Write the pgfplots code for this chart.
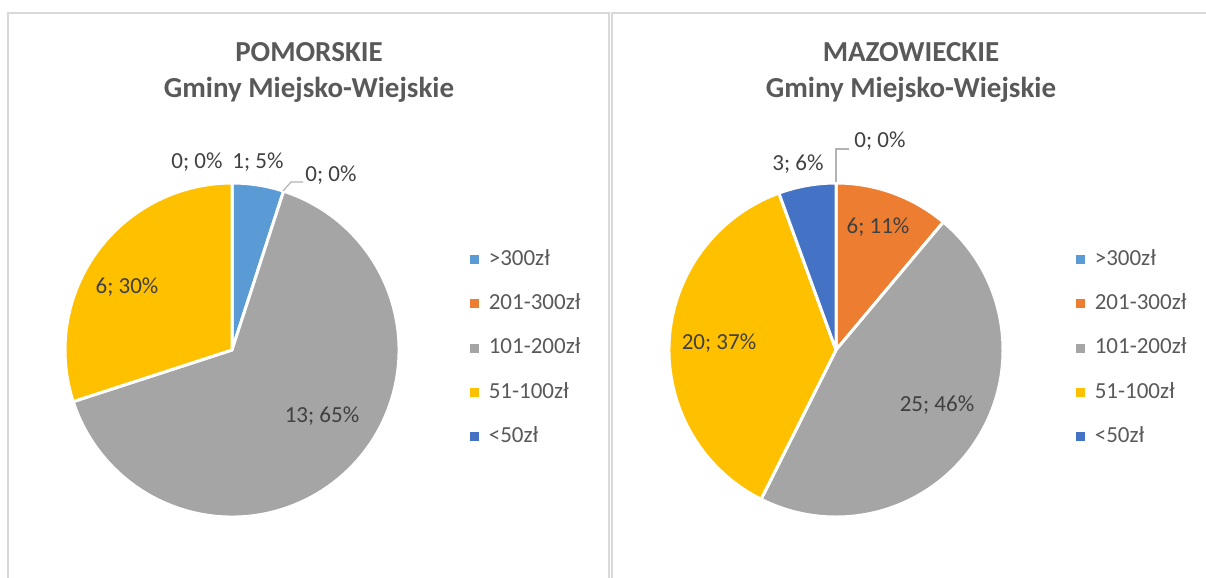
\documentclass[border=0pt]{standalone}
\usepackage{fontspec}
\setmainfont{Carlito}
\usepackage{pgfplots}
\usepackage{pgfplotstable}
\pgfplotsset{compat=1.18}

\definecolor{c0}{HTML}{5B9BD5}
\definecolor{c1}{HTML}{ED7D31}
\definecolor{c2}{HTML}{A5A5A5}
\definecolor{c3}{HTML}{FFC000}
\definecolor{c4}{HTML}{4472C4}
\definecolor{titlegray}{HTML}{595959}
\definecolor{labelgray}{HTML}{404040}
\definecolor{framegray}{HTML}{D9D9D9}

% counts per price band, same order as the legend
\pgfplotstableread{
kat val
>300zł 1
201-300zł 0
101-200zł 13
51-100zł 6
<50zł 0
}\pomorskie
\pgfplotstableread{
kat val
>300zł 0
201-300zł 6
101-200zł 25
51-100zł 20
<50zł 3
}\mazowieckie

% builds the wedge commands of one pie into #2
% #1 table, #3/#4 centre (px), #5 radius
\newcommand\makepie[5]{%
  \pgfplotstablegetrowsof{#1}%
  \pgfmathtruncatemacro\pienrows{\pgfplotsretval-1}%
  \gdef\pietot{0}%
  \foreach \i in {0,...,\pienrows}{%
    \pgfplotstablegetelem{\i}{val}\of#1%
    \pgfmathsetmacro\t{\pietot+\pgfplotsretval}%
    \xdef\pietot{\t}}%
  \gdef\piecum{0}%
  \gdef#2{}%
  \foreach \i in {0,...,\pienrows}{%
    \pgfplotstablegetelem{\i}{val}\of#1%
    \let\v\pgfplotsretval
    \pgfmathsetmacro\a{90-(\piecum/\pietot)*360}%
    \pgfmathsetmacro\b{90-((\piecum+\v)/\pietot)*360}%
    \pgfmathsetmacro\c{\piecum+\v}%
    \xdef\piecum{\c}%
    \ifdim\v pt>0pt
      \xdef#2{\expandafter\unexpanded\expandafter{#2}%
        \noexpand\filldraw[fill=c\i, draw=white, line width=1.5pt, line join=round]
          (axis cs:#3,#4) -- ++(\a:#5) arc[start angle=\a, end angle=\b, radius=#5] -- cycle;}%
    \fi}%
}
\makepie{\pomorskie}{\pieL}{232}{350}{83.5pt}
\makepie{\mazowieckie}{\pieR}{836}{350}{83.5pt}

\pgfplotsset{
  piepanel/.style={
    anchor=south west,
    x=0.5pt, y=0.5pt, y dir=reverse,
    ymin=0, ymax=578,
    hide axis, clip=false,
    legend image code/.code={\fill[##1] (0pt,-2pt) rectangle (4pt,2pt);},
    legend cell align=left,
    legend style={draw=none, fill=none, anchor=west, inner sep=0pt, outer sep=0pt,
      font=\fontsize{11.5}{13}\selectfont,
      nodes={inner sep=0pt, text height=7.8pt, text depth=2pt, text=titlegray},
      row sep=12.3pt,
      /tikz/every odd column/.append style={column sep=5pt}},
  },
}
\tikzset{
  lab/.style={font=\fontsize{11.5}{13}\selectfont, text=labelgray, inner sep=0pt},
  ttl/.style={font=\bfseries\fontsize{14.5}{18}\selectfont, text=titlegray, align=center},
}

\begin{document}
\begin{tikzpicture}
\begin{axis}[piepanel, at={(0,0)}, xmin=0, xmax=609,
  legend style={at={(axis cs:470,348)}}]
\addlegendimage{c0}\addlegendimage{c1}\addlegendimage{c2}\addlegendimage{c3}\addlegendimage{c4}
\legend{>300zł, 201-300zł, 101-200zł, 51-100zł, <50zł}
\draw[framegray, line width=1pt] (axis cs:8,640) -- (axis cs:8,13) -- (axis cs:609,13) -- (axis cs:609,640);
\node[ttl] at (axis cs:309,72) {POMORSKIE\\Gminy Miejsko-Wiejskie};
\pieL
\node[lab] at (axis cs:197,162) {0; 0\%};
\node[lab] at (axis cs:258,162) {1; 5\%};
\draw[gray!60, line width=0.6pt] (axis cs:283,191) -- (axis cs:291,182) -- (axis cs:303,182);
\node[lab] at (axis cs:331,175) {0; 0\%};
\node[lab] at (axis cs:127,287) {6; 30\%};
\node[lab] at (axis cs:322,416) {13; 65\%};
\end{axis}

\begin{axis}[piepanel, at={(304.5pt,0)}, xmin=609, xmax=1206,
  legend style={at={(axis cs:1076,348)}}]
\addlegendimage{c0}\addlegendimage{c1}\addlegendimage{c2}\addlegendimage{c3}\addlegendimage{c4}
\legend{>300zł, 201-300zł, 101-200zł, 51-100zł, <50zł}
\draw[framegray, line width=1pt] (axis cs:612,640) -- (axis cs:612,13) -- (axis cs:1220,13);
\node[ttl] at (axis cs:911,72) {MAZOWIECKIE\\Gminy Miejsko-Wiejskie};
\pieR
\draw[gray!60, line width=0.6pt] (axis cs:836,182) -- (axis cs:836,149) -- (axis cs:849,149);
\node[lab] at (axis cs:880,141) {0; 0\%};
\node[lab] at (axis cs:798,164) {3; 6\%};
\node[lab] at (axis cs:878,227) {6; 11\%};
\node[lab] at (axis cs:937,405) {25; 46\%};
\node[lab] at (axis cs:719,343) {20; 37\%};
\end{axis}
\pgfresetboundingbox
\path[use as bounding box] (0,0) rectangle (603pt,289pt);
\end{tikzpicture}
\end{document}
